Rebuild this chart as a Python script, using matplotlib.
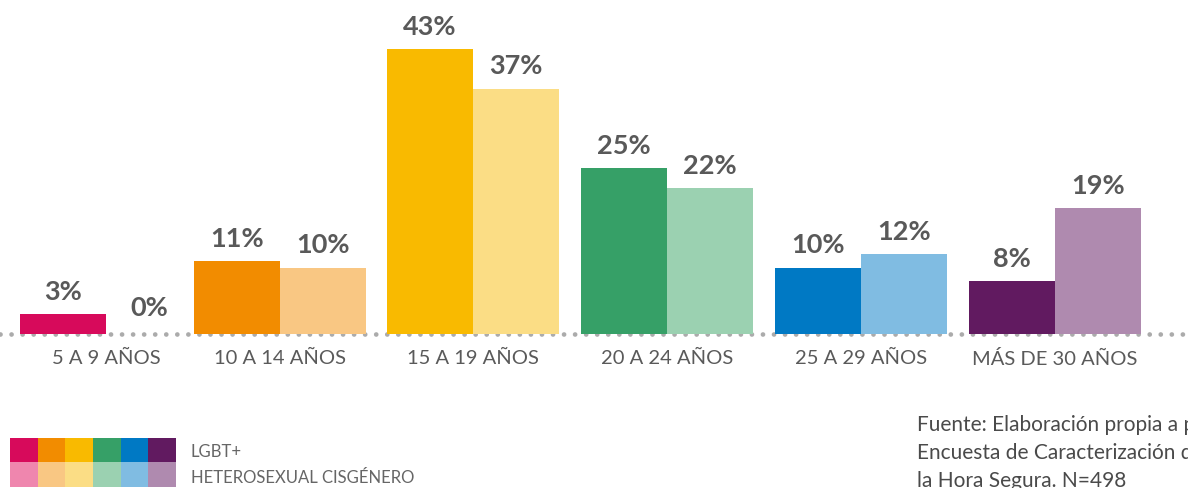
import matplotlib
matplotlib.use("Agg")
import matplotlib.pyplot as plt
from matplotlib.patches import Rectangle
import numpy as np

categories = ["5 A 9 AÑOS", "10 A 14 AÑOS", "15 A 19 AÑOS", "20 A 24 AÑOS", "25 A 29 AÑOS", "MÁS DE 30 AÑOS"]
lgbt = [3, 11, 43, 25, 10, 8]
hetero = [0, 10, 37, 22, 12, 19]
series_names = ["LGBT+", "HETEROSEXUAL CISGÉNERO"]
lgbt_colors = ["#D70A5B", "#F28C00", "#F9BA00", "#36A067", "#0079C4", "#611A60"]
hetero_colors = ["#EF86AE", "#F9C783", "#FBDD85", "#9BD1B1", "#80BCE2", "#AF8AAF"]
source = "Fuente: Elaboración propia a partir de la\nEncuesta de Caracterización de\nla Hora Segura. N=498"

W, H = 1188, 489
fig = plt.figure(figsize=(W / 100, H / 100), dpi=100)
font = "Lato"
txt_gray = "#595959"

# layout: group centres in pixel units (first group sits closer)
group_centers = np.array([106, 280, 473, 667, 861, 1055], dtype=float)
bw = 86.0

base_px = 335
ax = fig.add_axes([0, (H - base_px) / H, 1, base_px / H])
ax.set_axis_off()
px_per_pct = 6.63
ax.set_ylim(0, base_px / px_per_pct)
ax.set_xlim(0, W)

ax.bar(group_centers - bw / 2, lgbt, width=bw, color=lgbt_colors, zorder=3, linewidth=0)
ax.bar(group_centers + bw / 2, hetero, width=bw, color=hetero_colors, zorder=3, linewidth=0)

for xi, v in zip(group_centers - bw / 2, lgbt):
    ax.annotate(f"{v}%", (xi, v), xytext=(0, 11), textcoords="offset points",
                ha="center", va="baseline", fontsize=19.5, fontweight="bold",
                color=txt_gray, family=font, zorder=4)
for xi, v in zip(group_centers + bw / 2, hetero):
    ax.annotate(f"{v}%", (xi, v), xytext=(0, 11 if v > 0 else 14), textcoords="offset points",
                ha="center", va="baseline", fontsize=19.5, fontweight="bold",
                color=txt_gray, family=font, zorder=4)

# dotted baseline
ax.plot([0, W], [0, 0], color="#ABABAB", linewidth=3.4,
        linestyle=(0, (0.01, 2.33)), dash_capstyle="round", solid_capstyle="round",
        zorder=2, clip_on=False)

# category labels
for xi, c in zip(group_centers, categories):
    ax.annotate(c, (xi, 0), xytext=(0, -17), textcoords="offset points",
                ha="center", va="center", fontsize=14.5, color="#5a5a5a",
                family=font, annotation_clip=False)

# legend swatches
sw_ax = fig.add_axes([0, 0, 1, 1])
sw_ax.set_xlim(0, W)
sw_ax.set_ylim(H, 0)
sw_ax.set_axis_off()
sw_w = (176 - 10) / 6
for i in range(6):
    sw_ax.add_patch(Rectangle((10 + i * sw_w, 439), sw_w + 0.3, 24, color=lgbt_colors[i], linewidth=0))
    sw_ax.add_patch(Rectangle((10 + i * sw_w, 463), sw_w + 0.3, 25, color=hetero_colors[i], linewidth=0))
sw_ax.text(191, 452, series_names[0], fontsize=12, color="#666666", family=font, va="center", ha="left")
sw_ax.text(191, 478, series_names[1], fontsize=12, color="#666666", family=font, va="center", ha="left")

sw_ax.text(917, 415, source, fontsize=15, color="#4a4a4a", family=font,
           va="top", ha="left", linespacing=1.5)

fig.savefig("out.png", dpi=100)
